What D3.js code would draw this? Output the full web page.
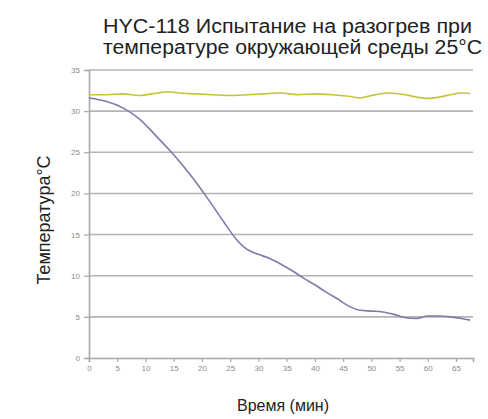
<!DOCTYPE html>
<html><head><meta charset="utf-8">
<script src="https://cdn.jsdelivr.net/npm/d3@7"></script>
<style>body{margin:0;background:#fff}svg{display:block}</style>
</head><body>
<svg id="c" width="488" height="419"></svg>
<script>
const titleLines = ["HYC-118 Испытание на разогрев при", "температуре окружающей среды 25°C"];
const yLabel = "Температура°C";
const xLabel = "Время (мин)";
const xTicks = [0,5,10,15,20,25,30,35,40,45,50,55,60,65];
const yTicks = [0,5,10,15,20,25,30,35];
const blueT = [0,3,6,9,12,15,18,21,24,26,28,30,32,34,36,38,40,42,44,46,48,50,52,54,56,58,60,62,64,66,67.5];
const blueV = [31.6,31.2,30.4,29.0,26.9,24.7,22.2,19.4,16.4,14.5,13.2,12.6,12.1,11.4,10.6,9.7,8.9,8.0,7.2,6.3,5.8,5.7,5.6,5.3,4.9,4.8,5.1,5.1,5.0,4.8,4.6];
const yellowT = [0,3,6,9,12,14,16,19,22,25,28,31,34,37,40,43,46,48,50,53,56,58,60,62,64,66,67.5];
const yellowV = [32.0,32.0,32.1,31.9,32.2,32.35,32.2,32.1,32.0,31.9,32.0,32.1,32.2,32.0,32.1,32.0,31.8,31.6,31.9,32.2,32.0,31.7,31.55,31.7,32.0,32.2,32.15];

const svg = d3.select("#c");
const x = d3.scaleLinear().domain([0,68]).range([89,473]);
const y = d3.scaleLinear().domain([0,35]).range([358,70]);

svg.append("g").selectAll("line").data(yTicks.filter(d=>d>0)).join("line")
  .attr("x1",x(0)).attr("x2",x(68)).attr("y1",d=>y(d)).attr("y2",d=>y(d))
  .attr("stroke","#b4b4b4").attr("stroke-width",1.6);

const ya = svg.append("g").attr("transform",`translate(${x(0)},0)`)
  .call(d3.axisLeft(y).tickValues(yTicks).tickSize(5).tickPadding(4));
const xa = svg.append("g").attr("transform",`translate(0,${y(0)})`)
  .call(d3.axisBottom(x).tickValues(xTicks).tickSize(4).tickPadding(3));
[ya,xa].forEach(a=>{
  a.select(".domain").attr("stroke","#a8a8a8").attr("stroke-width",1.6);
  a.selectAll(".tick line").attr("stroke","#a8a8a8").attr("stroke-width",1.2);
  a.selectAll("text").attr("fill","#8a8a8a").style("font-family","Liberation Sans, Arial, sans-serif").style("font-size","8px");
});

const line = d3.line().curve(d3.curveMonotoneX);
svg.append("path").attr("d",line(yellowT.map((t,i)=>[x(t),y(yellowV[i])])))
  .attr("fill","none").attr("stroke","#c4c43a").attr("stroke-width",1.6);
svg.append("path").attr("d",line(blueT.map((t,i)=>[x(t),y(blueV[i])])))
  .attr("fill","none").attr("stroke","#7c7cac").attr("stroke-width",1.6);

const titleW = [369, 379];
titleLines.forEach((l,i)=>svg.append("text").attr("x",103).attr("y",33+i*20.5)
  .style("font-family","Liberation Sans, Arial, sans-serif").style("font-size","19.5px").attr("fill","#222")
  .attr("textLength",titleW[i]).attr("lengthAdjust","spacingAndGlyphs").text(l));

svg.append("text").attr("transform","translate(50,220) rotate(-90)").attr("text-anchor","middle")
  .style("font-family","Liberation Sans, Arial, sans-serif").style("font-size","18px").attr("fill","#222").text(yLabel);
svg.append("text").attr("x",283).attr("y",411).attr("text-anchor","middle")
  .style("font-family","Liberation Sans, Arial, sans-serif").style("font-size","16px").attr("fill","#222").text(xLabel);
</script>
</body></html>
